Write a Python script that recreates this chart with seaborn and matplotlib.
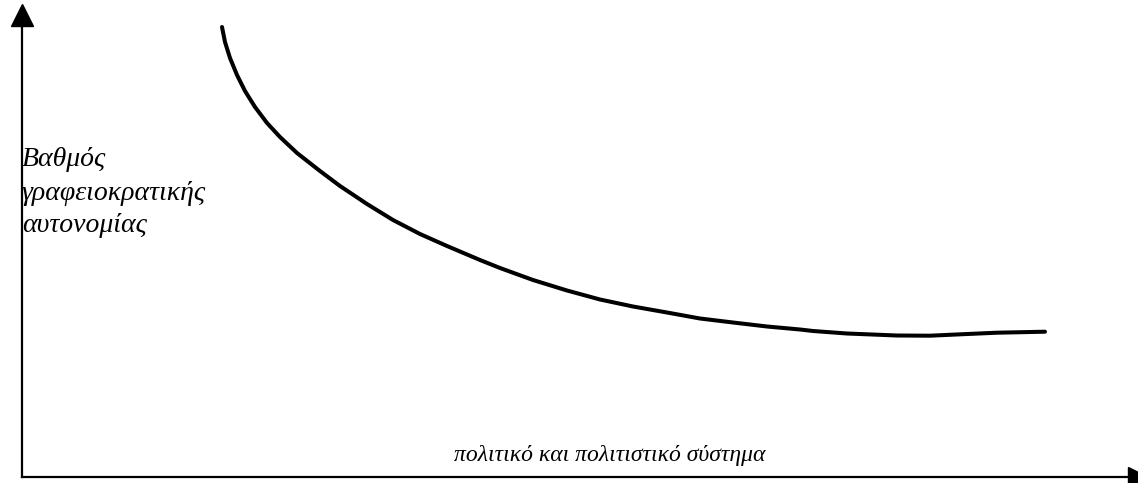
import matplotlib
matplotlib.use("Agg")
import matplotlib.pyplot as plt
import seaborn as sns
import pandas as pd

# Curve values (arbitrary units)
x_vals = [200, 203, 208, 215, 223, 233, 245, 258, 275, 298, 318, 345, 371, 398,
          425, 458, 478, 511, 545, 578, 611, 645, 678, 711, 745, 778, 791, 825,
          875, 908, 941, 975, 1023]
y_vals = [450, 435, 419, 402, 386, 370, 354, 340, 324, 306, 291, 273, 257, 243,
          231, 217, 209, 197, 186.5, 177.5, 170.5, 164.5, 158.5, 154.5, 150.5, 147.5,
          146, 143.5, 141.5, 141.3, 142.8, 144.3, 145.3]
y_label_lines = ["Βαθμός", "γραφειοκρατικής", "αυτονομίας"]
x_label = "πολιτικό και πολιτιστικό σύστημα"

sns.set_style("white")
plt.rcParams['font.family'] = ['Liberation Serif', 'DejaVu Serif']
plt.rcParams['text.color'] = 'black'

df = pd.DataFrame({"x": x_vals, "y": y_vals})

fig = plt.figure(figsize=(11.38, 4.83), dpi=100)
ax = fig.add_axes([22/1138, 6/483, 1 - 22/1138, 1 - 6/483 - 15/483])
ax.set_xlim(0, 1116)
ax.set_ylim(0, 462)

sns.lineplot(data=df, x="x", y="y", ax=ax, color="black", linewidth=2.9,
             sort=False, estimator=None)
ax.lines[-1].set_solid_joinstyle("round")
ax.lines[-1].set_solid_capstyle("round")

for s in ["top", "right"]:
    ax.spines[s].set_visible(False)
for s in ["left", "bottom"]:
    ax.spines[s].set_linewidth(1.6)
    ax.spines[s].set_color("black")

# arrow heads at the ends of the axes
ax.plot(0, 1, marker="^", markersize=16, color="black",
        transform=ax.transAxes, clip_on=False)
ax.plot(1, 0, marker=">", markersize=14, color="black",
        transform=ax.transAxes, clip_on=False)

ax.set_xticks([])
ax.set_yticks([])
ax.set_xlabel("")
ax.set_ylabel("")

line_centres = [160, 193, 226]  # pixel rows of the label lines
for txt, py in zip(y_label_lines, line_centres):
    ax.text(0.0, (477 - py) / 462, txt, transform=ax.transAxes, color="black",
            fontsize=20, fontstyle="italic", ha="left", va="center")
ax.text(588 / 1116, 22 / 462, x_label, transform=ax.transAxes, color="black",
        fontsize=17, fontstyle="italic", ha="center", va="center")

fig.savefig("out.png", dpi=100, facecolor="white")
